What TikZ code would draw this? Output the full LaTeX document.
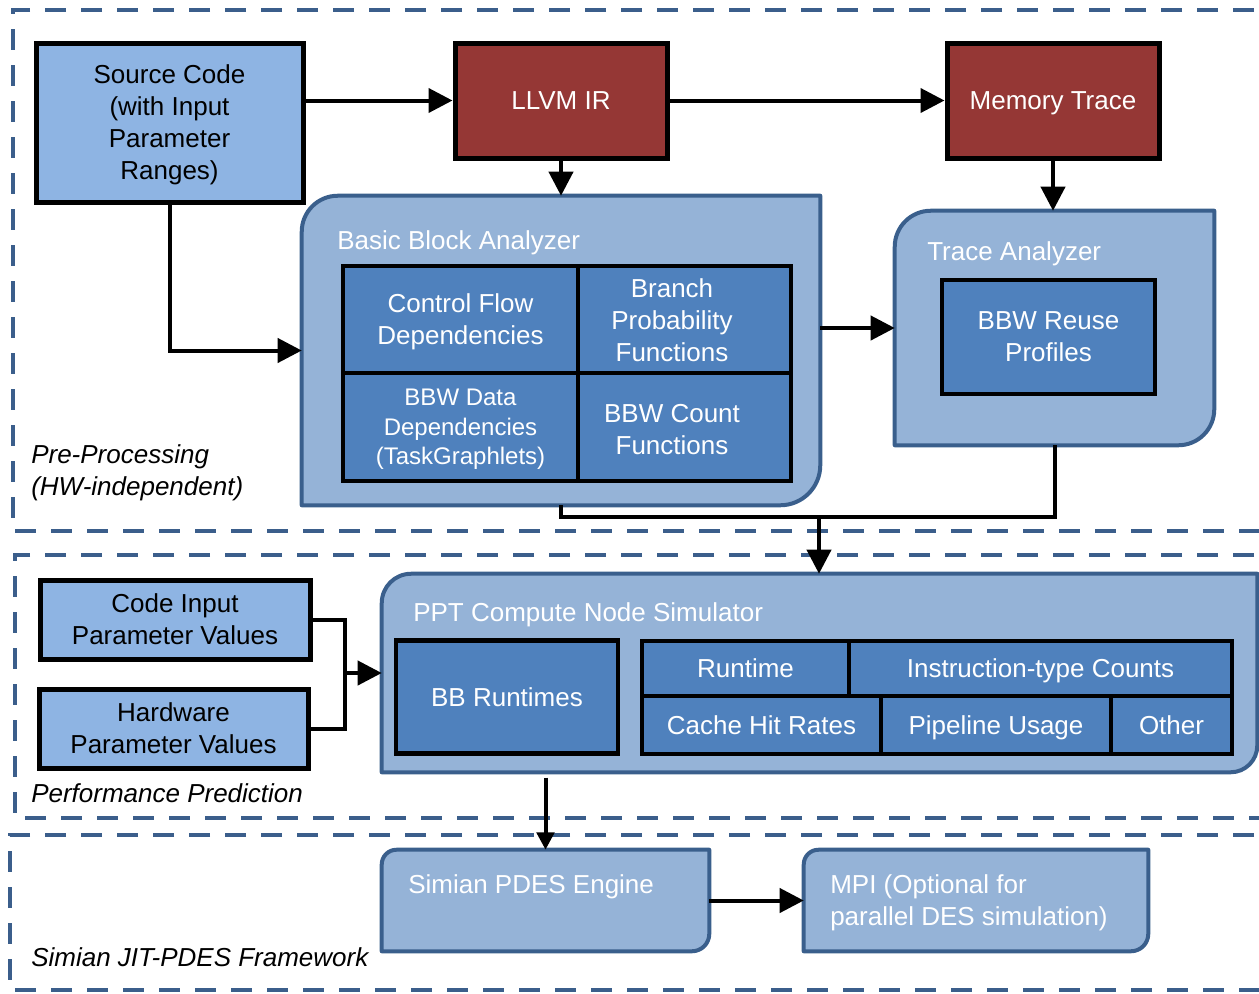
\documentclass[tikz,border=0pt]{standalone}
\usepackage{fontspec}
\setmainfont{Liberation Sans}
\usetikzlibrary{arrows.meta}

\definecolor{srcblue}{HTML}{8EB4E3}
\definecolor{panelblue}{HTML}{95B3D7}
\definecolor{paneledge}{HTML}{3A5F8C}
\definecolor{cellblue}{HTML}{4F81BD}
\definecolor{irred}{HTML}{953735}
\definecolor{zoneedge}{HTML}{3B5E8B}

\tikzset{
  sz/.style 2 args={minimum width=#1*0.75pt, minimum height=#2*0.75pt},
  txt/.style={font=\fontsize{19.5}{24}\selectfont, align=center, text depth=0pt},
  inbox/.style={txt, draw=black, line width=3.75pt, fill=srcblue, inner sep=0pt},
  irbox/.style={txt, draw=black, line width=3.75pt, fill=irred, text=white, inner sep=0pt},
  cellbox/.style={txt, draw=black, line width=3.5pt, fill=cellblue, text=white, inner sep=0pt},
  celltext/.style={txt, text=white, inner sep=0pt},
  holder/.style={inner sep=0pt},
  panel/.style={draw=paneledge, line width=3pt, fill=panelblue, line join=round},
  zone/.style={draw=zoneedge, line width=3pt, dash pattern=on 16pt off 11pt},
  paneltitle/.style={font=\fontsize{19.5}{24}\selectfont, text=white, anchor=base west, inner sep=0pt, align=left},
  zonelabel/.style={font=\fontsize{19.5}{24}\selectfont\itshape, anchor=base west, align=left, inner sep=0pt},
  link/.style={line width=3pt},
  arr/.style={link, -{Triangle[length=18pt,width=18pt]}},
}

\begin{document}
\begin{tikzpicture}[x=0.75pt,y=0.75pt]
\clip (0,0) rectangle (1259,-993);

% ---- stage frames ----
\draw[zone] (1290,-10) -- (13,-10) -- (13,-531) -- (1290,-531);
\draw[zone] (1290,-555) -- (15,-555) -- (15,-818) -- (1290,-818);
\draw[zone] (1290,-835) -- (10,-835) -- (10,-990) -- (1290,-990);

\node[zonelabel] (lpre1) at (31,-463) {Pre-Processing};
\node[zonelabel] (lpre2) at (31,-495) {(HW-independent)};
\node[zonelabel] (lperf) at (31,-802) {Performance Prediction};
\node[zonelabel] (lsim) at (31,-966) {Simian JIT-PDES Framework};

% ---- pre-processing ----
\node[inbox, sz={267}{159}] (src) at (169.5,-122.5) {Source Code\\(with Input\\Parameter\\Ranges)};
\node[irbox, sz={212}{115}] (llvm) at (561,-100.5) {LLVM IR};
\node[irbox, sz={212}{115}] (mem) at (1053,-100.5) {Memory Trace};

% Basic Block Analyzer panel
\node[holder, sz={518}{309}] (bba) at (561,-350.5) {};
\draw[panel] (bba.south west) -- ([yshift=-27pt]bba.north west)
  arc[start angle=180,end angle=90,radius=27pt] -- (bba.north east)
  -- ([yshift=30pt]bba.south east) arc[start angle=0,end angle=-90,radius=30pt] -- cycle;
\node[paneltitle] (bbat) at (337,-249) {Basic Block Analyzer};
\node[cellbox, sz={235}{107}] (cfd) at (460.5,-319.5) {Control Flow\\Dependencies};
\node[cellbox, sz={213}{107}] (bpf) at (684.5,-319.5) {};
\node[celltext] (bpft) at (672,-320) {Branch\\Probability\\Functions};
\node[cellbox, sz={235}{108}, font=\fontsize{18}{22}\selectfont] (bdd) at (460.5,-427) {BBW Data\\Dependencies\\(TaskGraphlets)};
\node[cellbox, sz={213}{108}] (bcf) at (684.5,-427) {};
\node[celltext] (bcft) at (672,-429) {BBW Count\\Functions};

% Trace Analyzer panel
\node[holder, sz={319}{234}] (ta) at (1054.5,-328) {};
\draw[panel] (ta.south west) -- ([yshift=-27pt]ta.north west)
  arc[start angle=180,end angle=90,radius=27pt] -- (ta.north east)
  -- ([yshift=27pt]ta.south east) arc[start angle=0,end angle=-90,radius=27pt] -- cycle;
\node[paneltitle] (tat) at (927,-260) {Trace Analyzer};
\node[cellbox, sz={213}{114}] (reuse) at (1048.5,-337) {BBW Reuse\\Profiles};

% ---- performance prediction ----
\node[inbox, sz={270}{79}] (code) at (175,-619.5) {Code Input\\Parameter Values};
\node[inbox, sz={269}{79}] (hw) at (173.5,-728.5) {Hardware\\Parameter Values};

\node[holder, sz={875}{198}] (ppt) at (819.5,-673) {};
\draw[panel] (ppt.south west) -- ([yshift=-22pt]ppt.north west)
  arc[start angle=180,end angle=90,radius=22pt] -- (ppt.north east)
  -- ([yshift=20pt]ppt.south east) arc[start angle=0,end angle=-90,radius=20pt] -- cycle;
\node[paneltitle] (pptt) at (413,-621) {PPT Compute Node Simulator};
\node[cellbox, sz={222}{113}] (bbr) at (507,-697) {BB Runtimes};
\node[cellbox, sz={207}{55}] (rt) at (745.5,-668.5) {Runtime};
\node[cellbox, sz={383}{55}] (itc) at (1040.5,-668.5) {Instruction-type Counts};
\node[cellbox, sz={239}{58}] (chr) at (761.5,-725) {Cache Hit Rates};
\node[cellbox, sz={230}{58}] (pu) at (996,-725) {Pipeline Usage};
\node[cellbox, sz={121}{58}] (oth) at (1171.5,-725) {Other};

% ---- Simian framework ----
\node[holder, sz={327}{101}] (sim) at (545.5,-900.5) {};
\draw[panel] (sim.south west) -- ([yshift=-11pt]sim.north west)
  arc[start angle=180,end angle=90,radius=11pt] -- (sim.north east)
  -- ([yshift=13pt]sim.south east) arc[start angle=0,end angle=-90,radius=13pt] -- cycle;
\node[paneltitle] (simt) at (408,-893) {Simian PDES Engine};

\node[holder, sz={344}{101}] (mpi) at (976,-900.5) {};
\draw[panel] (mpi.south west) -- ([yshift=-11pt]mpi.north west)
  arc[start angle=180,end angle=90,radius=11pt] -- (mpi.north east)
  -- ([yshift=13pt]mpi.south east) arc[start angle=0,end angle=-90,radius=13pt] -- cycle;
\node[paneltitle] (mpit) at (830,-893) {MPI (Optional for};
\node[paneltitle] (mpit2) at (830,-925) {parallel DES simulation)};

% ---- connectors ----
\coordinate (merge) at (819,-517);
\coordinate (join) at (345,-673);

\draw[arr] (src.east |- llvm.west) -- (llvm.west);
\draw[arr] (llvm.east) -- (mem.west);
\draw[arr] (llvm.south) -- (llvm.south |- bba.north);
\draw[arr] (mem.south) -- (mem.south |- ta.north);
\draw[arr] (src.south) |- (bba.west);
\draw[arr] (bba.east |- ta.west) -- (ta.west);
\draw[link] (bba.south) |- (merge);
\draw[link] (ta.south) |- (merge);
\draw[arr] (merge) -- (merge |- ppt.north);
\draw[link] (code.east) -| (join);
\draw[link] (hw.east) -| (join);
\draw[arr] (join) -- (join -| ppt.west);
\draw[arr, shorten <=4pt, -{Triangle[length=13pt,width=13pt]}] (sim.north |- ppt.south) -- (sim.north);
\draw[arr] (sim.east) -- (mpi.west);
\end{tikzpicture}
\end{document}
